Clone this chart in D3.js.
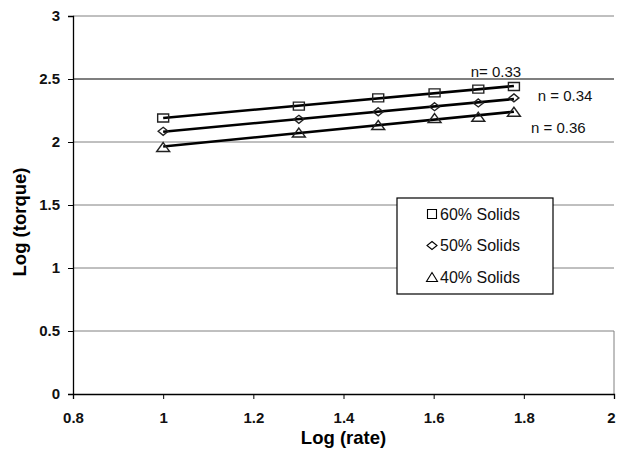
<!DOCTYPE html>
<html>
<head>
<meta charset="utf-8">
<script src="https://cdn.jsdelivr.net/npm/d3@7"></script>
<style>
body { margin: 0; background: #fff; }
text { font-family: Arial, "Liberation Sans", sans-serif; }
</style>
</head>
<body>
<div class="chart"></div>
<script>
// log(rate) values, shared by all three series
var logRate = [1, 1.301, 1.477, 1.602, 1.699, 1.778];
var solids60 = [2.19, 2.285, 2.35, 2.39, 2.42, 2.44];
var solids50 = [2.085, 2.18, 2.24, 2.28, 2.31, 2.35];
var solids40 = [1.96, 2.075, 2.135, 2.19, 2.2, 2.24];
var seriesNames = ['60% Solids', '50% Solids', '40% Solids'];
var slopeLabels = ['n= 0.33', 'n = 0.34', 'n = 0.36'];
var xTicks = [0.8, 1, 1.2, 1.4, 1.6, 1.8, 2];
var yTicks = [0, 0.5, 1, 1.5, 2, 2.5, 3];

var margin = { top: 16, right: 3, bottom: 55, left: 73 };
var width = 617 - margin.left - margin.right;
var height = 449 - margin.top - margin.bottom;

var svg = d3.select('.chart')
    .append('svg')
    .attr('width', 617)
    .attr('height', 449)
    .append('g')
    .attr('transform', 'translate(' + margin.left + ', ' + margin.top + ')');

var xScale = d3.scaleLinear().domain([0.8, 2]).range([0, width]);
var yScale = d3.scaleLinear().domain([0, 3]).range([height, 0]);

// gridlines
svg.selectAll('.grid')
    .data(yTicks.filter(d => d > 0))
    .enter()
    .append('line')
    .attr('x1', 0)
    .attr('x2', width)
    .attr('y1', d => yScale(d))
    .attr('y2', d => yScale(d))
    .attr('stroke', d => d === 2.5 ? '#555' : '#808080')
    .attr('stroke-width', d => d === 2.5 ? 1.6 : 1);

// right border
svg.append('line')
    .attr('x1', width).attr('x2', width)
    .attr('y1', yScale(0.5)).attr('y2', height)
    .attr('stroke', '#808080');

var yAxis = d3.axisLeft(yScale)
    .tickValues(yTicks)
    .tickFormat(d3.format('~g'))
    .tickSize(5)
    .tickPadding(8);
var gy = svg.append('g').call(yAxis);

var xAxis = d3.axisBottom(xScale)
    .tickValues(xTicks)
    .tickFormat(d3.format('~g'))
    .tickSize(5)
    .tickPadding(13);
var gx = svg.append('g')
    .attr('transform', `translate(0, ${height})`)
    .call(xAxis);

[gx, gy].forEach(g => {
    g.select('.domain').attr('stroke', '#000').attr('stroke-width', 1.3);
    g.selectAll('.tick line').attr('stroke', '#000');
    g.selectAll('.tick text')
        .style('font-size', '15px')
        .style('font-weight', 'bold')
        .attr('fill', '#111');
});
// keep the last x label inside the page
gx.selectAll('.tick text').filter(d => d === 2).attr('dx', -3);

svg.append('text')
    .attr('x', xScale(1.4))
    .attr('y', height + 50)
    .style('text-anchor', 'middle')
    .style('font-size', '18.5px')
    .style('font-weight', 'bold')
    .text('Log (rate)');

svg.append('text')
    .attr('transform', `translate(${-47}, ${height / 2 + 17}) rotate(-90)`)
    .style('text-anchor', 'middle')
    .style('font-size', '18.5px')
    .style('font-weight', 'bold')
    .text('Log (torque)');

var series = [solids60, solids50, solids40];

// marker outlines (w x h boxes), a bit squat like the original
function marker(k, w, h) {
    var p = d3.path();
    if (k === 0) {
        p.rect(-w / 2, -h / 2, w, h);
    } else if (k === 1) {
        p.moveTo(0, -h / 2); p.lineTo(w / 2, 0); p.lineTo(0, h / 2); p.lineTo(-w / 2, 0); p.closePath();
    } else {
        p.moveTo(0, -h / 2); p.lineTo(w / 2, h / 2); p.lineTo(-w / 2, h / 2); p.closePath();
    }
    return p.toString();
}
var markerDims = [[11, 8], [10, 8], [13, 9]];

// least-squares trendline for each series
function fit(ys) {
    var mx = d3.mean(logRate), my = d3.mean(ys);
    var sxy = d3.sum(logRate, (x, i) => (x - mx) * (ys[i] - my));
    var sxx = d3.sum(logRate, x => (x - mx) * (x - mx));
    var b = sxy / sxx;
    return { a: my - b * mx, b: b };
}

series.forEach((ys, k) => {
    var f = fit(ys);
    var x0 = logRate[0], x1 = logRate[logRate.length - 1];
    svg.append('line')
        .attr('x1', xScale(x0)).attr('y1', yScale(f.a + f.b * x0))
        .attr('x2', xScale(x1)).attr('y2', yScale(f.a + f.b * x1))
        .attr('stroke', '#000')
        .attr('stroke-width', 2.6);

    svg.selectAll('.pt' + k)
        .data(ys)
        .enter()
        .append('path')
        .attr('transform', (d, i) => `translate(${xScale(logRate[i])}, ${yScale(d)})`)
        .attr('d', marker(k, markerDims[k][0], markerDims[k][1]))
        .attr('fill', 'none')
        .attr('stroke', '#222')
        .attr('stroke-width', 1.4);
});

// slope labels
var labelPos = [[1.682, 2.516], [1.831, 2.325], [1.816, 2.07]];
svg.selectAll('.nlabel')
    .data(slopeLabels)
    .enter()
    .append('text')
    .attr('x', (d, i) => xScale(labelPos[i][0]))
    .attr('y', (d, i) => yScale(labelPos[i][1]))
    .style('font-size', '15px')
    .attr('fill', '#111')
    .text(d => d);

// legend
var legend = svg.append('g').attr('transform', 'translate(324, 182)');
legend.append('rect')
    .attr('width', 156)
    .attr('height', 96)
    .attr('fill', '#fff')
    .attr('stroke', '#000')
    .attr('stroke-width', 1.2);

var items = legend.selectAll('.item')
    .data(seriesNames)
    .enter()
    .append('g')
    .attr('transform', (d, i) => `translate(35, ${16 + i * 31.5})`);

items.append('path')
    .attr('d', (d, i) => marker(i, [9, 10, 11][i], [9, 8, 9][i]))
    .attr('fill', 'none')
    .attr('stroke', '#000')
    .attr('stroke-width', 1.1);

items.append('text')
    .attr('x', 8)
    .attr('y', 5.5)
    .style('font-size', '16px')
    .attr('fill', '#111')
    .text(d => d);
</script>
</body>
</html>
